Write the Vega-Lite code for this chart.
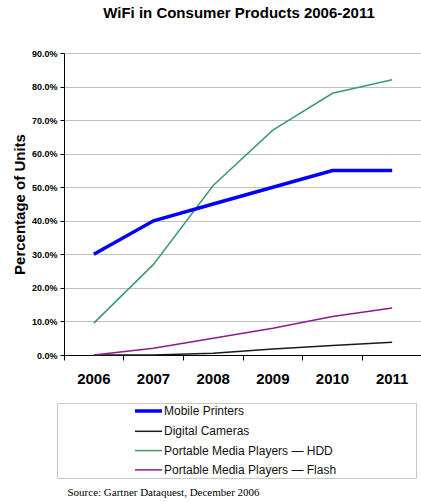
{
  "$schema": "https://vega.github.io/schema/vega-lite/v6.json",
  "background": "white",
  "padding": {"left": 12, "top": 6, "right": 0, "bottom": 0},
  "title": {
    "text": "Source:  Gartner Dataquest, December 2006",
    "orient": "bottom",
    "anchor": "start",
    "font": "Liberation Serif",
    "fontSize": 11,
    "fontWeight": "normal",
    "color": "#000000",
    "dx": 55,
    "offset": 8
  },
  "vconcat": [
    {
      "title": {
        "text": "WiFi in Consumer Products 2006-2011",
        "font": "Liberation Sans",
        "fontSize": 15,
        "fontWeight": "bold",
        "color": "#000000",
        "anchor": "middle",
        "dx": -4,
        "offset": 28
      },
      "width": 358,
      "height": 302,
      "data": {
        "values": [
          {"year": "2006", "series": "Digital Cameras", "value": 0.0},
          {"year": "2007", "series": "Digital Cameras", "value": 0.0},
          {"year": "2008", "series": "Digital Cameras", "value": 0.005},
          {"year": "2009", "series": "Digital Cameras", "value": 0.018},
          {"year": "2010", "series": "Digital Cameras", "value": 0.028},
          {"year": "2011", "series": "Digital Cameras", "value": 0.038},
          {"year": "2006", "series": "Portable Media Players — Flash", "value": 0.0},
          {"year": "2007", "series": "Portable Media Players — Flash", "value": 0.02},
          {"year": "2008", "series": "Portable Media Players — Flash", "value": 0.05},
          {"year": "2009", "series": "Portable Media Players — Flash", "value": 0.08},
          {"year": "2010", "series": "Portable Media Players — Flash", "value": 0.115},
          {"year": "2011", "series": "Portable Media Players — Flash", "value": 0.14},
          {"year": "2006", "series": "Portable Media  Players — HDD", "value": 0.095},
          {"year": "2007", "series": "Portable Media  Players — HDD", "value": 0.27},
          {"year": "2008", "series": "Portable Media  Players — HDD", "value": 0.505},
          {"year": "2009", "series": "Portable Media  Players — HDD", "value": 0.67},
          {"year": "2010", "series": "Portable Media  Players — HDD", "value": 0.78},
          {"year": "2011", "series": "Portable Media  Players — HDD", "value": 0.82},
          {"year": "2006", "series": "Mobile Printers", "value": 0.30},
          {"year": "2007", "series": "Mobile Printers", "value": 0.40},
          {"year": "2008", "series": "Mobile Printers", "value": 0.45},
          {"year": "2009", "series": "Mobile Printers", "value": 0.50},
          {"year": "2010", "series": "Mobile Printers", "value": 0.55},
          {"year": "2011", "series": "Mobile Printers", "value": 0.55}
        ]
      },
      "mark": {"type": "line", "strokeCap": "butt"},
      "encoding": {
        "x": {
          "field": "year",
          "type": "ordinal",
          "bandPosition": 0.5,
          "scale": {"type": "band", "paddingInner": 0, "paddingOuter": 0},
          "axis": {
            "title": null,
            "labelAngle": 0,
            "bandPosition": 0,
            "labelFont": "Liberation Sans",
            "labelFontSize": 15,
            "labelFontWeight": "bold",
            "labelColor": "#000000",
            "labelPadding": 11,
            "tickSize": 5,
            "tickColor": "#000000",
            "domainColor": "#000000",
            "grid": false
          }
        },
        "y": {
          "field": "value",
          "type": "quantitative",
          "scale": {"domain": [0, 0.9], "nice": false},
          "axis": {
            "title": "Percentage of Units",
            "titleFont": "Liberation Sans",
            "titleFontSize": 15,
            "titleFontWeight": "bold",
            "titleColor": "#000000",
            "titlePadding": 4,
            "format": ".1%",
            "values": [0, 0.1, 0.2, 0.3, 0.4, 0.5, 0.6, 0.7, 0.8, 0.9],
            "labelFont": "Liberation Sans",
            "labelFontSize": 9,
            "labelFontWeight": "bold",
            "labelColor": "#000000",
            "labelPadding": 3,
            "tickSize": 4,
            "tickColor": "#000000",
            "domainColor": "#000000",
            "grid": true,
            "gridColor": "#c0c0c0",
            "gridWidth": 1
          }
        },
        "color": {
          "field": "series",
          "type": "nominal",
          "scale": {
            "domain": ["Mobile Printers", "Digital Cameras", "Portable Media  Players — HDD", "Portable Media Players — Flash"],
            "range": ["#0000ff", "#1a1a1a", "#3a9b6b", "#8e1a8e"]
          },
          "legend": {"title": " ", "orient": "none", "legendX": -7, "legendY": 350}
        },
        "strokeWidth": {
          "field": "series",
          "type": "nominal",
          "scale": {
            "type": "ordinal",
            "domain": ["Mobile Printers", "Digital Cameras", "Portable Media  Players — HDD", "Portable Media Players — Flash"],
            "range": [3.5, 1.5, 1.5, 1.5]
          },
          "legend": {"title": " ", "orient": "none", "legendX": -7, "legendY": 350}
        }
      }
    }
  ],
  "config": {
    "view": {"stroke": null},
    "legend": {
      "strokeColor": "#c8c8c8",
      "padding": 2,
      "symbolType": "M-5.75,0H1",
      "symbolSize": 64,
      "symbolOffset": 93,
      "labelOffset": 0,
      "labelLimit": 400,
      "rowPadding": 7.3,
      "labelFont": "Liberation Sans",
      "labelFontSize": 12,
      "labelColor": "#111111",
      "titleOrient": "right",
      "titlePadding": 78,
      "titleFontSize": 12
    }
  }
}
